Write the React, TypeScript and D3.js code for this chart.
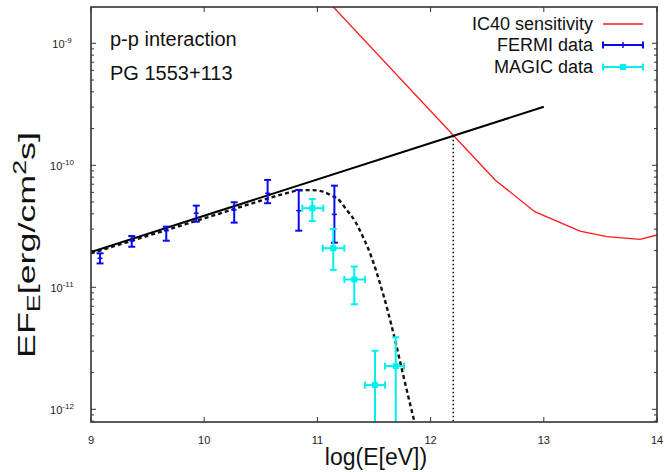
import React from "react";
import * as d3 from "d3";

// ---- Data ----
const fermiX = [9.08, 9.36, 9.665, 9.93, 10.265, 10.56, 10.835, 11.15];
const fermiY = [1.73e-11, 2.40e-11, 2.91e-11, 4.05e-11, 4.31e-11, 5.89e-11, 4.25e-11, 3.96e-11];
const fermiLo = [1.57e-11, 2.15e-11, 2.41e-11, 3.45e-11, 3.39e-11, 4.89e-11, 2.91e-11, 2.32e-11];
const fermiHi = [1.90e-11, 2.63e-11, 3.14e-11, 4.67e-11, 4.98e-11, 7.59e-11, 6.28e-11, 6.81e-11];

const magicX = [10.955, 11.14, 11.326, 11.509, 11.692];
const magicXLo = [10.867, 11.047, 11.238, 11.42, 11.597];
const magicXHi = [11.052, 11.238, 11.42, 11.597, 11.765];
const magicY = [4.45e-11, 2.09e-11, 1.16e-11, 1.58e-12, 2.26e-12];
const magicLo = [3.49e-11, 1.39e-11, 7.26e-12, 1e-13, 1e-13];
const magicHi = [5.30e-11, 3.01e-11, 1.48e-11, 3.02e-12, 3.89e-12];

const powerX = [9, 13];
const powerY = [1.945e-11, 3.02e-10];

const ppX = [9, 9.5, 10, 10.5, 10.7, 10.85, 10.95, 11.05, 11.12, 11.18, 11.259, 11.332, 11.403, 11.474, 11.544, 11.615, 11.686, 11.756, 11.827, 11.853, 11.88];
const ppY = [1.897e-11, 2.642e-11, 3.673e-11, 5.129e-11, 5.821e-11, 6.237e-11, 6.266e-11, 6.081e-11, 5.689e-11, 5.309e-11, 4.305e-11, 3.491e-11, 2.582e-11, 1.807e-11, 1.148e-11, 6.761e-12, 3.698e-12, 1.945e-12, 1.026e-12, 8.166e-13, 6.31e-13];

const icX = [11.0, 12.57, 12.92, 13.32, 13.556, 13.85, 14.0];
const icY = [2.735e-9, 7.586e-11, 4.169e-11, 2.891e-11, 2.6e-11, 2.472e-11, 2.685e-11];

const cutoffX = 12.2;
const cutoffY = 1.745e-10;

const xTicks = [9, 10, 11, 12, 13, 14];
const yDecades = [-12, -11, -10, -9];

const legendLabels = ["IC40 sensitivity", "FERMI data", "MAGIC data"];
const annotations = ["p-p interaction", "PG 1553+113"];

// ---- Layout ----
const W = 667, H = 472;
const L = 91, R = 657, T = 7, B = 422;
const FONT = "'Liberation Sans', Arial, Helvetica, sans-serif";
const FRAME = "#333";

export default function App() {
  const x = d3.scaleLinear().domain([9, 14]).range([L, R]);
  const y = d3.scaleLog().domain([Math.pow(10, -12.104), Math.pow(10, -8.7025)]).range([B, T]);

  const line = d3.line<[number, number]>().x(d => x(d[0])).y(d => y(d[1]));
  const smooth = d3.line<[number, number]>().x(d => x(d[0])).y(d => y(d[1])).curve(d3.curveMonotoneX);

  const powerPts = powerX.map((v, i) => [v, powerY[i]] as [number, number]);
  const ppPts = ppX.map((v, i) => [v, ppY[i]] as [number, number]);
  const icPts = icX.map((v, i) => [v, icY[i]] as [number, number]);

  const minor: number[] = [];
  for (let e = -13; e <= -9; e++) {
    for (let m = 2; m <= 9; m++) {
      const v = m * Math.pow(10, e);
      const py = y(v);
      if (py >= T && py <= B) minor.push(v);
    }
  }

  const blue = "#0a0aef";
  const cyan = "#00f0f0";
  const cap = 3.5;

  return (
    <svg width={W} height={H} style={{ position: "absolute", left: 0, top: 0, background: "#fff" }} fontFamily={FONT}>
      <defs>
        <clipPath id="plot">
          <rect x={L} y={T} width={R - L} height={B - T} />
        </clipPath>
      </defs>
      <rect x={0} y={0} width={W} height={H} fill="#fff" />

      <g stroke={FRAME} strokeWidth={1}>
        {xTicks.map(t => (
          <g key={"xt" + t}>
            <line x1={x(t)} x2={x(t)} y1={B} y2={B - 5} />
            <line x1={x(t)} x2={x(t)} y1={T} y2={T + 5} />
          </g>
        ))}
        {yDecades.map(e => {
          const py = y(Math.pow(10, e));
          return (
            <g key={"yt" + e}>
              <line x1={L} x2={L + 5} y1={py} y2={py} />
              <line x1={R} x2={R - 5} y1={py} y2={py} />
            </g>
          );
        })}
        {minor.map((v, i) => (
          <g key={"ym" + i}>
            <line x1={L} x2={L + 3} y1={y(v)} y2={y(v)} />
            <line x1={R} x2={R - 3} y1={y(v)} y2={y(v)} />
          </g>
        ))}
      </g>

      <g fill="#222" fontSize={11}>
        {xTicks.map(t => (
          <text key={"xl" + t} x={x(t)} y={444} textAnchor="middle">{t}</text>
        ))}
        {yDecades.map(e => (
          <text key={"yl" + e} x={62} y={y(Math.pow(10, e)) + 5} textAnchor="middle">
            10<tspan fontSize={8} dy={-5}>{e}</tspan>
          </text>
        ))}
      </g>

      <text x={376} y={465} textAnchor="middle" fontSize={23} fill="#111">log(E[eV])</text>
      <text transform={`translate(35,${245}) rotate(-90)`} textAnchor="middle" fontSize={24} fill="#111"
        textLength={226} lengthAdjust="spacingAndGlyphs">
        EF<tspan fontSize={18} dy={5}>E</tspan><tspan dy={-5}>[erg/cm</tspan><tspan fontSize={18} dy={-9}>2</tspan><tspan dy={9}>s]</tspan>
      </text>

      <g clipPath="url(#plot)">
        <path d={line(icPts) || ""} fill="none" stroke="#ff1a1a" strokeWidth={1.3} />
        <path d={line(powerPts) || ""} fill="none" stroke="#000" strokeWidth={2} />
        <path d={smooth(ppPts) || ""} fill="none" stroke="#111" strokeWidth={2.4} strokeDasharray="4,3" />
        <line x1={x(cutoffX)} x2={x(cutoffX)} y1={y(cutoffY)} y2={B} stroke="#000" strokeWidth={1.5} strokeDasharray="1.5,2.5" />

        <g stroke={blue} strokeWidth={2}>
          {fermiX.map((v, i) => (
            <g key={"f" + i}>
              <line x1={x(v)} x2={x(v)} y1={y(fermiLo[i])} y2={y(fermiHi[i])} />
              <line x1={x(v) - cap} x2={x(v) + cap} y1={y(fermiLo[i])} y2={y(fermiLo[i])} />
              <line x1={x(v) - cap} x2={x(v) + cap} y1={y(fermiHi[i])} y2={y(fermiHi[i])} />
              <line x1={x(v) - 2.5} x2={x(v) + 2.5} y1={y(fermiY[i])} y2={y(fermiY[i])} strokeWidth={1.5} />
            </g>
          ))}
        </g>

        <g stroke={cyan} strokeWidth={2}>
          {magicX.map((v, i) => (
            <g key={"m" + i}>
              <line x1={x(v)} x2={x(v)} y1={y(magicLo[i])} y2={y(magicHi[i])} />
              <line x1={x(v) - cap} x2={x(v) + cap} y1={y(magicLo[i])} y2={y(magicLo[i])} />
              <line x1={x(v) - cap} x2={x(v) + cap} y1={y(magicHi[i])} y2={y(magicHi[i])} />
              <line x1={x(magicXLo[i])} x2={x(magicXHi[i])} y1={y(magicY[i])} y2={y(magicY[i])} />
              <line x1={x(magicXLo[i])} x2={x(magicXLo[i])} y1={y(magicY[i]) - cap} y2={y(magicY[i]) + cap} />
              <line x1={x(magicXHi[i])} x2={x(magicXHi[i])} y1={y(magicY[i]) - cap} y2={y(magicY[i]) + cap} />
              <rect x={x(v) - 3} y={y(magicY[i]) - 3} width={6} height={6} fill={cyan} stroke="none" />
            </g>
          ))}
        </g>
      </g>

      <rect x={L} y={T} width={R - L} height={B - T} fill="none" stroke={FRAME} strokeWidth={1.6} />

      <text x={110} y={46} fontSize={20} fill="#111">{annotations[0]}</text>
      <text x={110} y={80} fontSize={20} fill="#111">{annotations[1]}</text>

      <g fontSize={18} fill="#111" textAnchor="end">
        <text x={593} y={30}>{legendLabels[0]}</text>
        <text x={593} y={51}>{legendLabels[1]}</text>
        <text x={593} y={73}>{legendLabels[2]}</text>
      </g>
      <line x1={603} x2={643} y1={24} y2={24} stroke="#ff1a1a" strokeWidth={1.3} />
      <g stroke={blue} strokeWidth={2}>
        <line x1={603} x2={643} y1={45} y2={45} />
        <line x1={603} x2={603} y1={41.5} y2={48.5} />
        <line x1={643} x2={643} y1={41.5} y2={48.5} />
        <line x1={623} x2={623} y1={42} y2={48} strokeWidth={1.5} />
      </g>
      <g stroke={cyan} strokeWidth={2}>
        <line x1={603} x2={643} y1={67} y2={67} />
        <line x1={603} x2={603} y1={63.5} y2={70.5} />
        <line x1={643} x2={643} y1={63.5} y2={70.5} />
        <rect x={620} y={64} width={6} height={6} fill={cyan} stroke="none" />
      </g>
    </svg>
  );
}
